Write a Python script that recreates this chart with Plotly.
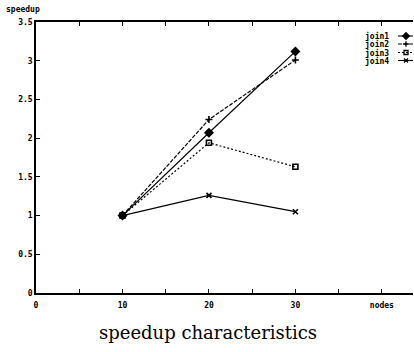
import plotly.graph_objects as go

nodes = [10, 20, 30]
join1 = [1.0, 2.07, 3.12]
join2 = [1.0, 2.24, 3.01]
join3 = [1.0, 1.94, 1.63]
join4 = [1.0, 1.26, 1.05]
series_names = ["join1", "join2", "join3", "join4"]

x_tickvals = [0, 5, 10, 15, 20, 25, 30, 35, 40]
x_ticktext = ["0", "", "10", "", "20", "", "30", "", "nodes"]
y_tickvals = [0, 0.5, 1, 1.5, 2, 2.5, 3, 3.5]
y_ticktext = ["0", "0.5", "1", "1.5", "2", "2.5", "3", "3.5"]

mono = "DejaVu Sans Mono"
styles = [
    ("solid", "diamond", 6),
    ("4px,1.5px", "cross-thin", 5),
    ("2px,2px", "square-open", 5),
    ("solid", "x-thin", 5),
]
fig = go.Figure()
for name, vals, (dash, sym, size) in zip(series_names, [join1, join2, join3, join4], styles):
    fig.add_trace(go.Scatter(
        x=nodes, y=vals, name=name, mode="lines+markers", showlegend=False,
        line=dict(color="black", width=1.2, dash=dash),
        marker=dict(symbol=sym, size=size, color="black",
                    line=dict(color="black", width=1.6)),
    ))

# custom legend (text left, sample right) drawn in pixel coordinates of an overlay axis
leg_rows = [36, 44, 52.5, 60.5]
annotations = []
for i, (name, (dash, sym, size)) in enumerate(zip(series_names, styles)):
    y = leg_rows[i]
    fig.add_trace(go.Scatter(
        x=[398, 414], y=[y, y], xaxis="x2", yaxis="y2", mode="lines",
        showlegend=False, cliponaxis=False, hoverinfo="skip",
        line=dict(color="black", width=1.1, dash=dash)))
    fig.add_trace(go.Scatter(
        x=[406], y=[y], xaxis="x2", yaxis="y2", mode="markers",
        showlegend=False, cliponaxis=False, hoverinfo="skip",
        marker=dict(symbol=sym, size=size - 1, color="black",
                    line=dict(color="black", width=1.3))))
    annotations.append(dict(text=name, xref="x2", yref="y2", x=391, y=y,
                            xanchor="right", yanchor="middle", showarrow=False,
                            font=dict(family=mono, size=8, color="black", weight="bold")))

annotations += [
    dict(text="speedup", xref="paper", yref="paper", x=0, y=1,
         xanchor="left", yanchor="bottom", xshift=-32, yshift=6,
         showarrow=False, font=dict(family=mono, size=8, color="black", weight="bold")),
    dict(text="speedup characteristics", xref="paper", yref="paper",
         x=0.456, y=0, xanchor="center", yanchor="middle", yshift=-39,
         showarrow=False, font=dict(family="DejaVu Serif", size=18, color="black")),
]

fig.update_layout(
    width=414, height=352,
    margin=dict(l=36, r=1, t=22, b=59),
    plot_bgcolor="white", paper_bgcolor="white",
    font=dict(family=mono, color="black", size=8),
    showlegend=False,
    hovermode=False,
    xaxis=dict(range=[0, 43.6], tickvals=x_tickvals, ticktext=x_ticktext,
               ticks="inside", ticklen=4, tickcolor="black",
               showline=True, linecolor="black", linewidth=1.5,
               mirror="ticks", showgrid=False, zeroline=False,
               ticklabelstandoff=4,
               tickfont=dict(family=mono, size=8, color="black", weight="bold")),
    yaxis=dict(range=[0, 3.5], tickvals=y_tickvals, ticktext=y_ticktext,
               ticks="inside", ticklen=4, tickcolor="black",
               showline=True, linecolor="black", linewidth=1.5,
               showgrid=False, zeroline=False,
               tickfont=dict(family=mono, size=8, color="black", weight="bold")),
    xaxis2=dict(overlaying="x", range=[36, 413], visible=False, fixedrange=True),
    yaxis2=dict(overlaying="y", range=[293, 22], visible=False, fixedrange=True),
    annotations=annotations,
)
fig.write_html("out.html", config={"displayModeBar": False},
               post_script="document.body.style.margin='0';")
